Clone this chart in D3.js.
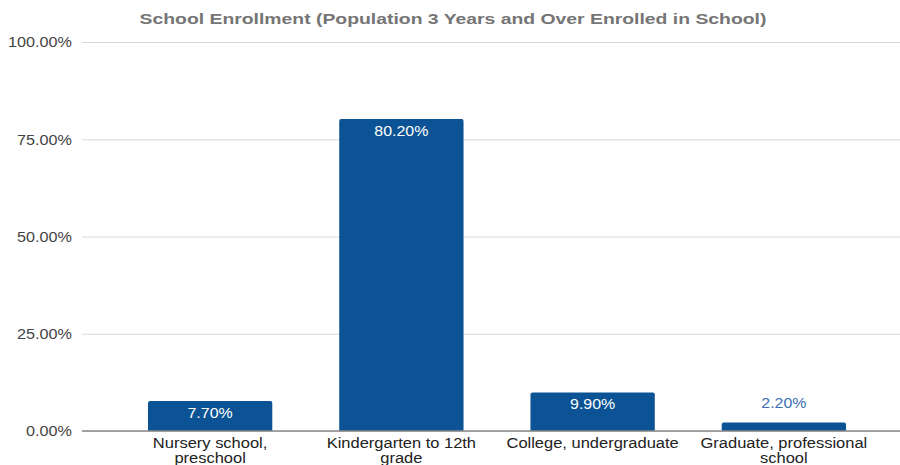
<!DOCTYPE html>
<html>
<head>
<meta charset="utf-8">
<script src="https://cdn.jsdelivr.net/npm/d3@7"></script>
<style>
  body { margin: 0; background: #fff; }
  text { font-family: "Liberation Sans", Arial, sans-serif; }
</style>
</head>
<body>
<div id="chart"></div>
<script>
// data
var categories = ["Nursery school, preschool", "Kindergarten to 12th grade", "College, undergraduate", "Graduate, professional school"];
var labelLines = [["Nursery school,", "preschool"], ["Kindergarten to 12th", "grade"], ["College, undergraduate"], ["Graduate, professional", "school"]];
var values = [7.7, 80.2, 9.9, 2.2];
var yTicks = [0, 25, 50, 75, 100];

var width = 900, height = 465;
var plotLeft = 82, plotRight = 900, plotTop = 42, plotBottom = 431;

// the reference text is a little wider than it is tall, so widen it about its anchor
function stretch(sel, sx) {
  sel.each(function () {
    var t = d3.select(this);
    var ax = +t.attr("x") || 0;
    t.attr("transform", (t.attr("transform") || "") +
      " translate(" + ax + ",0) scale(" + sx + ",1) translate(" + (-ax) + ",0)");
  });
}

var svg = d3.select("#chart")
  .append("svg")
  .attr("width", width)
  .attr("height", height);

// title
svg.append("text")
  .attr("x", 453)
  .attr("y", 24)
  .attr("text-anchor", "middle")
  .style("font-size", "15.5px")
  .style("font-weight", "bold")
  .style("fill", "#757575")
  .text("School Enrollment (Population 3 Years and Over Enrolled in School)")
  .call(stretch, 1.25);

var x = d3.scaleBand()
  .domain(categories)
  .range([114.5, 879.5])
  .paddingInner(0.35)
  .paddingOuter(0.175);

var y = d3.scaleLinear()
  .domain([0, 100])
  .range([plotBottom, plotTop]);

// gridlines + tick labels
var yAxis = svg.append("g")
  .attr("transform", "translate(" + plotLeft + ",0)")
  .call(d3.axisLeft(y)
    .tickValues(yTicks)
    .tickSize(-(plotRight - plotLeft))
    .tickPadding(10)
    .tickFormat(function (d) { return d.toFixed(2) + "%"; }));
yAxis.select(".domain").remove();
yAxis.selectAll(".tick line")
  .attr("stroke", "#d9d9d9")
  .attr("stroke-width", 1);
yAxis.selectAll(".tick text")
  .attr("font-family", null)
  .attr("font-size", null)
  .style("font-size", "15px")
  .style("fill", "#444")
  .call(stretch, 1.08);

// bars
var bw = x.bandwidth();
svg.append("g")
  .selectAll("path")
  .data(values)
  .enter()
  .append("path")
  .attr("fill", "#0b5394")
  .attr("d", function (d, i) {
    var x0 = x(categories[i]), x1 = x0 + bw;
    var y0 = y(d), yb = y(0), r = 2;
    return "M" + x0 + "," + yb + "V" + (y0 + r) + "Q" + x0 + "," + y0 + " " + (x0 + r) + "," + y0 +
      "H" + (x1 - r) + "Q" + x1 + "," + y0 + " " + x1 + "," + (y0 + r) + "V" + yb + "Z";
  });

// baseline
svg.append("line")
  .attr("x1", plotLeft).attr("x2", plotRight)
  .attr("y1", plotBottom).attr("y2", plotBottom)
  .attr("stroke", "#8a8a8a")
  .attr("stroke-width", 1.5);

// value labels
svg.append("g")
  .selectAll("text")
  .data(values)
  .enter()
  .append("text")
  .attr("x", function (d, i) { return x(categories[i]) + bw / 2; })
  .attr("y", function (d) {
    var h = y(0) - y(d);
    return h > 20 ? y(d) + 17 : y(d) - 14;
  })
  .attr("text-anchor", "middle")
  .style("font-size", "14.5px")
  .style("fill", function (d) { return (y(0) - y(d)) > 20 ? "#fff" : "#3d6fb6"; })
  .text(function (d) { return d.toFixed(2) + "%"; })
  .call(stretch, 1.1);

// category labels
var cat = svg.append("g")
  .selectAll("text")
  .data(labelLines)
  .enter()
  .append("text")
  .attr("x", function (d, i) { return x(categories[i]) + bw / 2; })
  .attr("y", 448)
  .attr("text-anchor", "middle")
  .style("font-size", "15px")
  .style("fill", "#222");
cat.selectAll("tspan")
  .data(function (d) { return d; })
  .enter()
  .append("tspan")
  .attr("x", function () { return d3.select(this.parentNode).attr("x"); })
  .attr("dy", function (d, j) { return j === 0 ? 0 : 15; })
  .text(function (d) { return d; });
cat.call(stretch, 1.1);
</script>
</body>
</html>
